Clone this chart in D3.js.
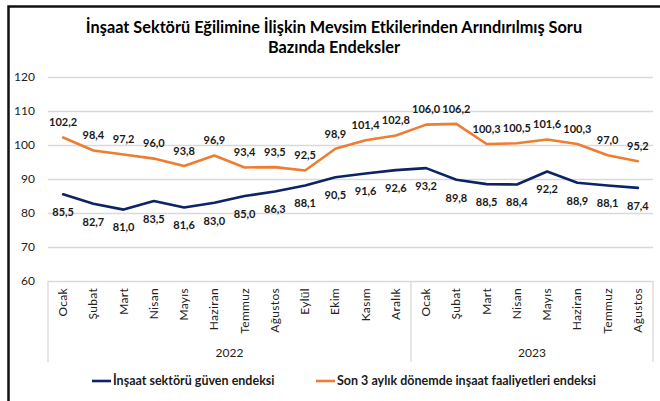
<!DOCTYPE html>
<html>
<head>
<meta charset="utf-8">
<script src="https://cdn.jsdelivr.net/npm/d3@7"></script>
<style>
  body { margin: 0; background: #fff; }
  text { font-family: Lato, "Open Sans", sans-serif; }
</style>
</head>
<body>
<div id="chart"></div>
<script>
  // Data
  const months = ['Ocak', 'Şubat', 'Mart', 'Nisan', 'Mayıs', 'Haziran', 'Temmuz', 'Ağustos', 'Eylül', 'Ekim', 'Kasım', 'Aralık',
    'Ocak', 'Şubat', 'Mart', 'Nisan', 'Mayıs', 'Haziran', 'Temmuz', 'Ağustos']
  const years = ['2022', '2023']
  const yearCounts = [12, 8]
  const guven = [85.5, 82.7, 81.0, 83.5, 81.6, 83.0, 85.0, 86.3, 88.1, 90.5, 91.6, 92.6,
    93.2, 89.8, 88.5, 88.4, 92.2, 88.9, 88.1, 87.4]
  const faaliyet = [102.2, 98.4, 97.2, 96.0, 93.8, 96.9, 93.4, 93.5, 92.5, 98.9, 101.4, 102.8,
    106.0, 106.2, 100.3, 100.5, 101.6, 100.3, 97.0, 95.2]
  const yTicks = [60, 70, 80, 90, 100, 110, 120]
  const seriesNames = ['İnşaat sektörü güven endeksi', 'Son 3 aylık dönemde inşaat faaliyetleri endeksi']
  const titleLines = ['İnşaat Sektörü Eğilimine İlişkin Mevsim Etkilerinden Arındırılmış Soru', 'Bazında Endeksler']

  const width = 660
  const height = 401
  const plot = { left: 48, right: 653, top: 77, bottom: 281 }
  const colors = ['#0c2466', '#ed7d31']

  const svg = d3.select('#chart')
    .append('svg')
    .attr('width', width)
    .attr('height', height)

  svg.append('rect')
    .attr('width', width)
    .attr('height', height)
    .attr('fill', '#fff')

  // Frame (top and left edges visible)
  svg.append('path')
    .attr('d', `M8.5,${height} L8.5,6.5 L${width},6.5`)
    .attr('fill', 'none')
    .attr('stroke', '#111')
    .attr('stroke-width', 2.5)

  // Title
  svg.append('g')
    .selectAll('text')
    .data(titleLines)
    .join('text')
    .attr('x', 334)
    .attr('y', (d, i) => 33 + i * 20)
    .attr('text-anchor', 'middle')
    .attr('font-size', 16.3)
    .attr('font-weight', 'bold')
    .attr('fill', '#000')
    .text(d => d)

  const idx = d3.range(months.length)
  const x = d3.scaleBand().domain(idx).range([plot.left, plot.right]).padding(0)
  const cx = i => x(i) + x.bandwidth() / 2
  const y = d3.scaleLinear().domain([60, 120]).range([plot.bottom, plot.top])

  // Gridlines
  svg.append('g')
    .selectAll('line')
    .data(yTicks.slice(1))
    .join('line')
    .attr('x1', plot.left)
    .attr('x2', plot.right)
    .attr('y1', d => Math.round(y(d)) + 0.5)
    .attr('y2', d => Math.round(y(d)) + 0.5)
    .attr('stroke', '#d9d9d9')
    .attr('stroke-width', 1.3)

  // Y axis labels
  svg.append('g')
    .selectAll('text')
    .data(yTicks)
    .join('text')
    .attr('x', 35)
    .attr('y', d => y(d))
    .attr('dy', '0.35em')
    .attr('text-anchor', 'end')
    .attr('font-size', 12)
    .attr('fill', '#222')
    .text(d => d)

  // Category axis: baseline and year separators
  const axisG = svg.append('g')
  axisG.append('line')
    .attr('x1', plot.left).attr('x2', plot.right)
    .attr('y1', plot.bottom + 0.5).attr('y2', plot.bottom + 0.5)
    .attr('stroke', '#d9d9d9').attr('stroke-width', 1.3)

  const bounds = [0]
  yearCounts.forEach(c => bounds.push(bounds[bounds.length - 1] + c))
  axisG.selectAll('.sep')
    .data(bounds)
    .join('line')
    .attr('class', 'sep')
    .attr('x1', d => d < months.length ? x(d) : plot.right)
    .attr('x2', d => d < months.length ? x(d) : plot.right)
    .attr('y1', plot.bottom)
    .attr('y2', 362)
    .attr('stroke', '#d9d9d9')
    .attr('stroke-width', 1.3)

  // Month labels (rotated)
  axisG.selectAll('.month')
    .data(months)
    .join('text')
    .attr('class', 'month')
    .attr('transform', (d, i) => `translate(${cx(i) + 4},288) rotate(-90)`)
    .attr('text-anchor', 'end')
    .attr('font-size', 12)
    .attr('letter-spacing', 0.3)
    .attr('fill', '#222')
    .text(d => d)

  // Year labels
  axisG.selectAll('.year')
    .data(years)
    .join('text')
    .attr('class', 'year')
    .attr('x', (d, i) => {
      const a = x(bounds[i])
      const b = bounds[i + 1] < months.length ? x(bounds[i + 1]) : plot.right
      return (a + b) / 2
    })
    .attr('y', 357)
    .attr('text-anchor', 'middle')
    .attr('font-size', 12)
    .attr('fill', '#222')
    .text(d => d)

  // Lines
  const series = [guven, faaliyet]
  const line = d3.line()
    .x((d, i) => cx(i))
    .y(d => y(d))

  svg.append('g')
    .selectAll('path')
    .data(series)
    .join('path')
    .attr('fill', 'none')
    .attr('stroke', (d, i) => colors[i])
    .attr('stroke-width', 2.6)
    .attr('stroke-linejoin', 'round')
    .attr('stroke-linecap', 'round')
    .attr('d', line)

  // Data labels
  const fmt = v => d3.format('.1f')(v).replace('.', ',')
  series.forEach((s, si) => {
    svg.append('g')
      .selectAll('text')
      .data(s)
      .join('text')
      .attr('x', (d, i) => cx(i))
      .attr('y', d => si === 0 ? y(d) + 18 : y(d) - 15)
      .attr('dy', '0.35em')
      .attr('text-anchor', 'middle')
      .attr('font-size', 11)
      .attr('font-weight', 'bold')
      .attr('fill', '#1a1a1a')
      .text(fmt)
  })

  // Legend
  const legendX = [92, 316]
  const legend = svg.append('g')
    .selectAll('g')
    .data(seriesNames)
    .join('g')
    .attr('transform', (d, i) => `translate(${legendX[i]},381)`)

  legend.append('line')
    .attr('x1', 0).attr('x2', 19)
    .attr('stroke', (d, i) => colors[i])
    .attr('stroke-width', 2.6)

  legend.append('text')
    .attr('x', 21)
    .attr('dy', '0.35em')
    .attr('font-size', 12.5)
    .attr('font-weight', 'bold')
    .attr('fill', '#1a1a1a')
    .text(d => d)
</script>
</body>
</html>
